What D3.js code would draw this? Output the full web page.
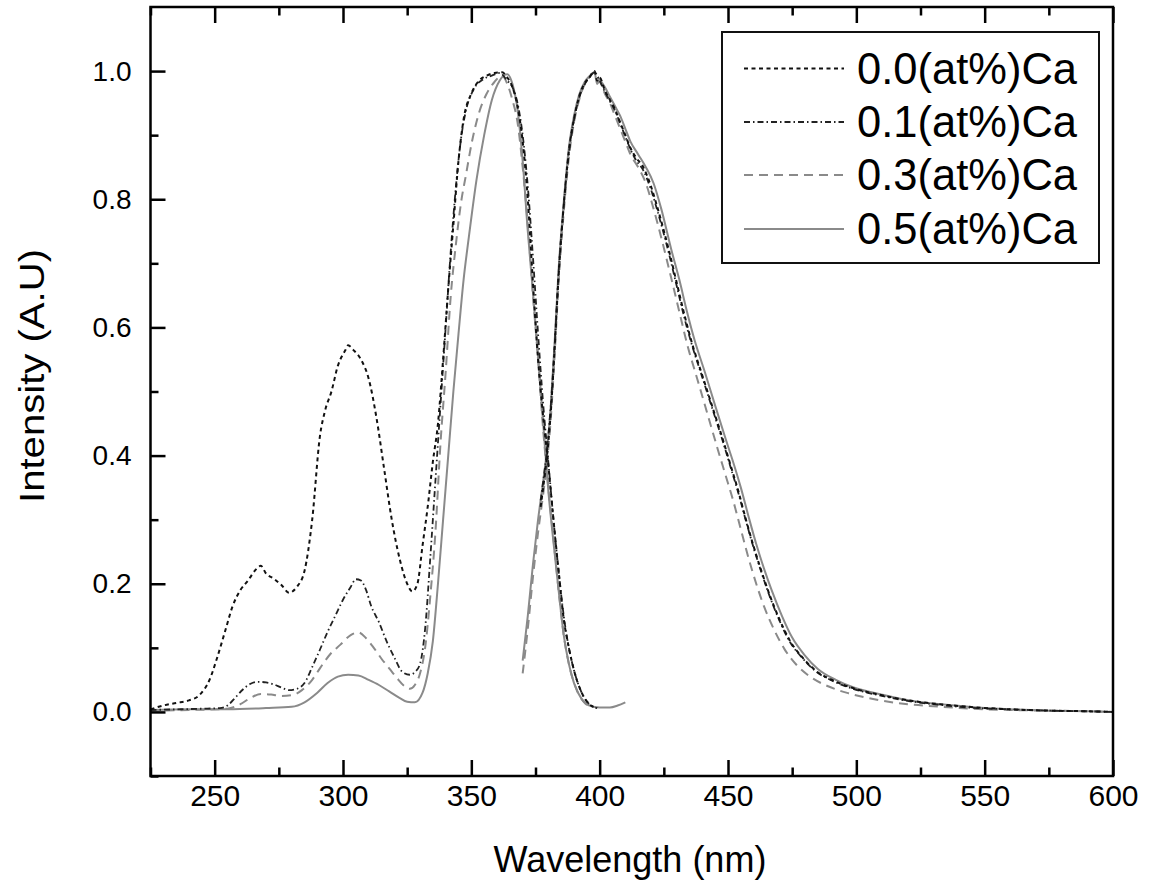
<!DOCTYPE html>
<html>
<head>
<meta charset="utf-8">
<script src="https://cdn.jsdelivr.net/npm/d3@7"></script>
<style>
  html, body { margin: 0; padding: 0; background: #fff; }
  svg { display: block; }
  text { font-family: "Liberation Sans", Arial, sans-serif; fill: #000; }
</style>
</head>
<body>
<svg id="chart" width="1149" height="886"></svg>
<script>
// ---------- data (wavelength nm, normalized intensity) ----------
const seriesNames = ["0.0(at%)Ca", "0.1(at%)Ca", "0.3(at%)Ca", "0.5(at%)Ca"];

const excitation00 = [[225,0.004],[230,0.01],[235,0.014],[240,0.018],[244,0.026],[248,0.05],[251,0.085],[254,0.125],[257,0.165],[260,0.19],[263,0.205],[266,0.222],[268,0.228],[270,0.216],[273,0.208],[276,0.198],[279,0.186],[282,0.195],[285,0.22],[288,0.3],[291,0.43],[293,0.47],[295.5,0.5],[298,0.54],[301,0.565],[302,0.572],[304,0.565],[307,0.55],[310,0.52],[313,0.46],[316,0.38],[319,0.3],[322,0.24],[325,0.2],[327,0.188],[329,0.2],[331,0.26],[333,0.32],[335,0.39],[337,0.45],[339,0.55],[341,0.66],[343,0.76],[345,0.86],[347,0.925],[350,0.965],[353,0.985],[356,0.993],[359,0.997],[362,0.998],[364,0.99],[366,0.975],[368,0.945],[370,0.89],[372,0.8],[374,0.67],[376,0.55],[378,0.46],[380,0.385],[382,0.3],[384,0.22],[386,0.145],[388,0.1],[390,0.065],[393,0.03],[396,0.012],[399,0.006]];

const excitation01 = [[225,0.003],[235,0.004],[245,0.005],[252,0.006],[255,0.01],[258,0.022],[261,0.035],[264,0.044],[267,0.047],[270,0.046],[273,0.043],[276,0.038],[279,0.034],[282,0.036],[285,0.045],[288,0.07],[291,0.097],[294,0.125],[297,0.15],[300,0.175],[303,0.195],[305,0.207],[307,0.205],[309,0.19],[311,0.165],[314,0.14],[317,0.11],[320,0.085],[323,0.063],[326,0.058],[328,0.062],[330,0.075],[332,0.13],[334,0.24],[336,0.36],[338,0.48],[340,0.6],[342,0.72],[344,0.82],[346,0.895],[348,0.94],[351,0.972],[355,0.988],[358,0.993],[361,0.997],[364,0.985],[366,0.975],[368,0.95],[370,0.9],[372,0.82],[374,0.71],[376,0.59],[378,0.48],[380,0.39],[382,0.3],[384,0.22],[386,0.15],[388,0.1],[390,0.065],[393,0.03],[396,0.012],[399,0.006]];

const excitation03 = [[225,0.002],[240,0.003],[255,0.005],[260,0.012],[264,0.022],[268,0.028],[272,0.027],[276,0.025],[280,0.026],[284,0.034],[288,0.05],[291,0.068],[295,0.09],[299,0.105],[303,0.12],[306,0.124],[309,0.115],[312,0.1],[315,0.083],[318,0.068],[321,0.053],[324,0.04],[326,0.036],[328,0.042],[330,0.06],[332,0.1],[334,0.18],[336,0.28],[338,0.42],[340,0.53],[342,0.65],[344,0.73],[346,0.795],[348,0.84],[350,0.885],[353,0.935],[356,0.965],[359,0.983],[362,0.993],[364,0.98],[366,0.955],[368,0.92],[370,0.85],[372,0.76],[374,0.65],[376,0.55],[378,0.44],[380,0.35],[382,0.27],[384,0.19],[386,0.12],[388,0.075],[391,0.035],[394,0.015],[397,0.007]];

const excitation05 = [[225,0.003],[240,0.004],[255,0.004],[270,0.006],[280,0.008],[285,0.015],[290,0.03],[294,0.045],[298,0.055],[302,0.058],[306,0.057],[310,0.05],[314,0.042],[318,0.032],[322,0.022],[325,0.016],[328,0.015],[331,0.03],[333,0.06],[335,0.11],[337,0.2],[339,0.3],[341,0.4],[343,0.5],[345,0.59],[347,0.675],[349,0.74],[352,0.83],[355,0.9],[358,0.955],[361,0.985],[364,0.995],[366,0.98],[368,0.94],[370,0.86],[372,0.75],[374,0.655],[376,0.555],[378,0.45],[380,0.345],[382,0.265],[384,0.19],[386,0.12],[388,0.075],[390,0.045],[393,0.02],[396,0.01],[400,0.007],[404,0.007],[407,0.01],[410,0.015]];

const emission00 = [[377,0.32],[378,0.35],[379.5,0.4],[381,0.47],[382.5,0.57],[384,0.68],[386,0.79],[388,0.875],[390,0.925],[392,0.96],[394,0.98],[396,0.99],[398,1.0],[399,0.985],[400,0.99],[402,0.97],[404,0.955],[406,0.94],[408,0.92],[410,0.9],[412,0.88],[414,0.866],[417,0.85],[420,0.82],[423,0.78],[427,0.72],[430,0.67],[433,0.62],[436,0.575],[440,0.525],[444,0.475],[448,0.425],[451,0.385],[454,0.345],[457,0.3],[460,0.258],[463,0.22],[466,0.185],[470,0.145],[474,0.112],[479,0.085],[484,0.065],[491,0.049],[498,0.038],[510,0.026],[522,0.017],[535,0.011],[547,0.007],[560,0.004],[575,0.002],[590,0.001],[600,0.0]];

const emission01 = [[377,0.33],[378,0.36],[379.5,0.41],[381,0.48],[382.5,0.575],[384,0.685],[386,0.79],[388,0.872],[390,0.924],[392,0.958],[394,0.978],[396,0.99],[398,0.998],[400,0.985],[402,0.968],[404,0.953],[406,0.938],[408,0.918],[410,0.898],[412,0.878],[414,0.862],[417,0.845],[420,0.815],[423,0.775],[427,0.715],[430,0.665],[433,0.615],[436,0.572],[440,0.522],[444,0.472],[448,0.422],[451,0.382],[454,0.342],[457,0.298],[460,0.256],[463,0.218],[466,0.183],[470,0.143],[474,0.11],[479,0.084],[484,0.064],[491,0.048],[498,0.037],[510,0.025],[522,0.016],[535,0.01],[547,0.006],[560,0.004],[575,0.002],[590,0.001],[600,0.0]];

const emission03 = [[370,0.06],[372,0.13],[374,0.21],[376,0.28],[378,0.34],[379.5,0.39],[381,0.46],[382.5,0.56],[384,0.67],[386,0.78],[388,0.865],[390,0.92],[392,0.955],[394,0.978],[396,0.99],[398,0.998],[400,0.985],[402,0.965],[404,0.95],[406,0.93],[408,0.91],[410,0.89],[412,0.87],[415,0.85],[418,0.825],[421,0.785],[424,0.74],[428,0.675],[431,0.625],[434,0.575],[438,0.52],[442,0.465],[446,0.41],[449,0.37],[452,0.33],[455,0.285],[458,0.24],[461,0.2],[464,0.165],[468,0.128],[472,0.098],[477,0.072],[482,0.055],[489,0.04],[497,0.029],[508,0.019],[520,0.012],[533,0.008],[545,0.005],[560,0.003],[575,0.002],[590,0.001],[600,0.0]];

const emission05 = [[370,0.08],[372,0.15],[374,0.23],[376,0.3],[378,0.36],[379.5,0.41],[381,0.48],[382.5,0.58],[384,0.69],[386,0.795],[388,0.88],[390,0.93],[392,0.963],[394,0.982],[396,0.992],[398,0.998],[399,0.98],[400,0.985],[402,0.975],[404,0.96],[406,0.945],[408,0.93],[410,0.91],[412,0.89],[415,0.87],[418,0.85],[421,0.825],[424,0.785],[428,0.72],[431,0.675],[434,0.625],[437,0.58],[441,0.53],[445,0.478],[449,0.427],[452,0.39],[455,0.35],[458,0.305],[461,0.262],[464,0.224],[467,0.19],[471,0.15],[475,0.116],[480,0.088],[485,0.067],[492,0.05],[499,0.038],[510,0.027],[522,0.017],[535,0.011],[547,0.007],[560,0.004],[575,0.002],[590,0.001],[600,0.0]];

const xTickValues = [250, 300, 350, 400, 450, 500, 550, 600];
const yTickValues = [0.0, 0.2, 0.4, 0.6, 0.8, 1.0];
const xTitle = "Wavelength (nm)";
const yTitle = "Intensity (A.U)";

// ---------- layout ----------
const svg = d3.select("#chart");
const plot = { left: 150.5, right: 1113, top: 7, bottom: 776 };
const x = d3.scaleLinear().domain([225, 600]).range([plot.left, plot.right]);
const y = d3.scaleLinear().domain([-0.1, 1.1]).range([plot.bottom, plot.top]);

const styles = [
  { color: "#111", width: 2, dash: "4,3.5" },
  { color: "#222", width: 1.8, dash: "6,3,1.5,3" },
  { color: "#8a8a8a", width: 2, dash: "9,6" },
  { color: "#8a8a8a", width: 2, dash: null }
];
const series = [
  [excitation00, emission00],
  [excitation01, emission01],
  [excitation03, emission03],
  [excitation05, emission05]
];

const line = d3.line().x(d => x(d[0])).y(d => y(d[1])).curve(d3.curveMonotoneX);

const gLines = svg.append("g");
[3, 2, 1, 0].forEach(i => {
  series[i].forEach(seg => {
    gLines.append("path")
      .datum(seg)
      .attr("d", line)
      .attr("fill", "none")
      .attr("stroke", styles[i].color)
      .attr("stroke-width", styles[i].width)
      .attr("stroke-dasharray", styles[i].dash)
      .attr("stroke-linejoin", "round");
  });
});

// ---------- axes (ticks inward) ----------
const minorX = d3.range(225, 601, 25).filter(v => !xTickValues.includes(v));
const minorY = [-0.1, 0.1, 0.3, 0.5, 0.7, 0.9];

function styleTicks(g) {
  g.select(".domain").remove();
  g.selectAll(".tick line").attr("stroke", "#000").attr("stroke-width", 2.5);
}

const gb = svg.append("g").attr("transform", `translate(0,${plot.bottom})`)
  .call(d3.axisBottom(x).tickValues(xTickValues).tickSize(-16).tickFormat(d3.format("d")).tickPadding(22));
styleTicks(gb);
gb.selectAll(".tick text").attr("font-size", 30).attr("font-family", "Liberation Sans, Arial, sans-serif").attr("fill", "#000").attr("dy", "0.71em").attr("y", 9);

styleTicks(svg.append("g").attr("transform", `translate(0,${plot.bottom})`)
  .call(d3.axisBottom(x).tickValues(minorX).tickSize(-8.5).tickFormat("")));

styleTicks(svg.append("g").attr("transform", `translate(0,${plot.top})`)
  .call(d3.axisTop(x).tickValues(xTickValues).tickSize(-16).tickFormat("")));
styleTicks(svg.append("g").attr("transform", `translate(0,${plot.top})`)
  .call(d3.axisTop(x).tickValues(minorX).tickSize(-8.5).tickFormat("")));

const gl = svg.append("g").attr("transform", `translate(${plot.left},0)`)
  .call(d3.axisLeft(y).tickValues(yTickValues).tickSize(-15).tickFormat(d3.format(".1f")).tickPadding(34));
styleTicks(gl);
gl.selectAll(".tick text").attr("font-size", 28).attr("font-family", "Liberation Sans, Arial, sans-serif").attr("fill", "#000").attr("x", -19);

styleTicks(svg.append("g").attr("transform", `translate(${plot.left},0)`)
  .call(d3.axisLeft(y).tickValues(minorY).tickSize(-8).tickFormat("")));

// frame
svg.append("rect")
  .attr("x", plot.left).attr("y", plot.top)
  .attr("width", plot.right - plot.left).attr("height", plot.bottom - plot.top)
  .attr("fill", "none").attr("stroke", "#000").attr("stroke-width", 2.5);

// titles
svg.append("text")
  .attr("x", 630).attr("y", 872)
  .attr("text-anchor", "middle").attr("font-size", 36)
  .text(xTitle);

svg.append("text")
  .attr("transform", `translate(44,376) rotate(-90)`)
  .attr("text-anchor", "middle").attr("font-size", 35)
  .attr("textLength", 254).attr("lengthAdjust", "spacingAndGlyphs")
  .text(yTitle);

// ---------- legend ----------
const legend = { x: 722, y: 32, w: 377, h: 231 };
svg.append("rect")
  .attr("x", legend.x).attr("y", legend.y).attr("width", legend.w).attr("height", legend.h)
  .attr("fill", "#fff").attr("stroke", "#111").attr("stroke-width", 2);

const rowY = [68.5, 122, 175, 229];
seriesNames.forEach((name, i) => {
  svg.append("line")
    .attr("x1", 744).attr("x2", 844).attr("y1", rowY[i]).attr("y2", rowY[i])
    .attr("stroke", styles[i].color).attr("stroke-width", styles[i].width)
    .attr("stroke-dasharray", styles[i].dash);
  svg.append("text")
    .attr("x", 857).attr("y", rowY[i] + 15)
    .attr("font-size", 43.5)
    .text(name);
});
</script>
</body>
</html>
